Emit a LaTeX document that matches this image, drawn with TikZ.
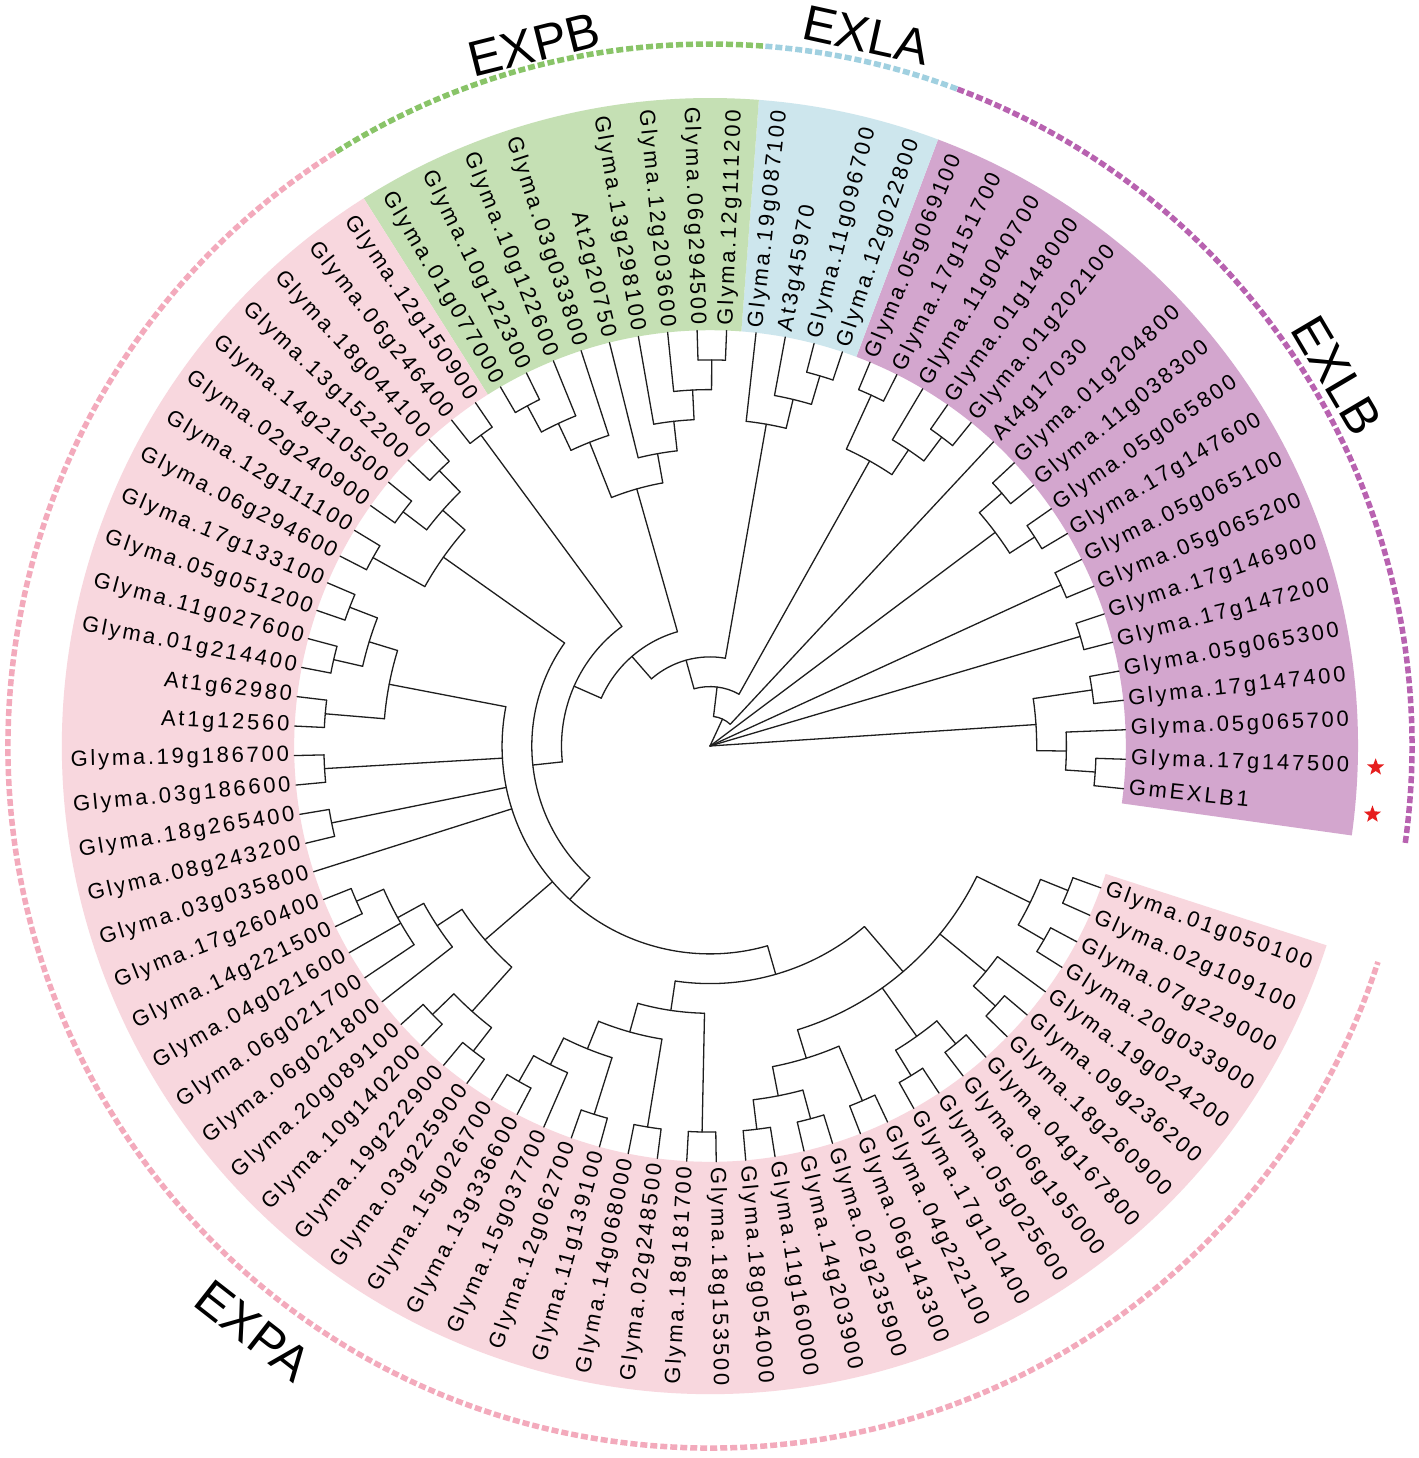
\documentclass[tikz,border=0pt]{standalone}
\usepackage{fontspec}
\setmainfont{Liberation Sans}
\newfontfamily\labfont[LetterSpace=12.5]{Liberation Sans}
\usetikzlibrary{shapes.geometric}
\definecolor{pinkband}{RGB}{248,215,222}
\definecolor{greenband}{RGB}{197,224,180}
\definecolor{blueband}{RGB}{205,230,237}
\definecolor{purpleband}{RGB}{211,166,206}
\definecolor{pinkdash}{RGB}{243,170,188}
\definecolor{greendash}{RGB}{137,196,104}
\definecolor{bluedash}{RGB}{160,208,224}
\definecolor{purpledash}{RGB}{184,98,176}
\definecolor{starred}{RGB}{230,30,30}
\definecolor{branchcol}{RGB}{30,30,30}
\def\aS{-5.9}\def\aD{4.07}\def\hstep{29.7}\def\Rtip{415.8}\def\Rlab{421}
\def\Rin{415.8}\def\Rout{648}\def\Rdash{702}
\tikzset{
  branch/.style={draw=branchcol,line width=1.3pt,line cap=round,line join=round},
  leaflab/.style={font=\labfont\fontsize{22}{22}\selectfont,inner sep=0pt,text height=15.5pt,text depth=4.6pt},
  cladelab/.style={font=\fontsize{50}{50}\selectfont,inner sep=0pt},
  dashring/.style={line width=5.5pt,dash pattern=on 7pt off 3pt},
  starmark/.style={star,star points=5,star point ratio=2.4,fill=starred,inner sep=0pt,minimum size=18pt}
}
\newcommand\mkleaf[2]{%
  \pgfmathsetmacro\la{\aS+(#1-1)*\aD}%
  \expandafter\xdef\csname ang@L#1\endcsname{\la}%
  \coordinate (L#1) at (\la:\Rtip pt);%
  \pgfmathtruncatemacro\lflag{((\la>90)&&(\la<270))?1:0}%
  \ifnum\lflag=1
    \pgfmathsetmacro\lrot{\la-180}%
    \node[leaflab,anchor=east,rotate=\lrot] (T#1) at (\la:\Rlab pt) {#2};%
  \else
    \node[leaflab,anchor=west,rotate=\la] (T#1) at (\la:\Rlab pt) {#2};%
  \fi
}
\newcommand\mknode[4]{%
  \pgfmathsetmacro\nr{(14-#2)*\hstep}%
  \edef\na{\csname ang@#3\endcsname}%
  \edef\nb{\csname ang@#4\endcsname}%
  \pgfmathsetmacro\nm{(\na+\nb)/2}%
  \expandafter\xdef\csname ang@#1\endcsname{\nm}%
  \coordinate (#1) at (\nm:\nr pt);%
  \coordinate (#1a) at (\na:\nr pt);%
  \coordinate (#1b) at (\nb:\nr pt);%
  \draw[branch] (#1a) arc[start angle=\na,end angle=\nb,radius=\nr pt];%
  \draw[branch] (#1a) -- (#3);%
  \draw[branch] (#1b) -- (#4);%
}
\newcommand\mkpoly[5]{%
  \mknode{#1}{#2}{#3}{#4}%
  \foreach \cc in {#5}{%
    \edef\ca{\csname ang@\cc\endcsname}%
    \coordinate (#1-\cc) at (\ca:\nr pt);%
    \draw[branch] (#1-\cc) -- (\cc);%
  }%
}
\newcommand\mkband[3]{%
  \fill[#1] (#2:\Rin pt) arc[start angle=#2,end angle=#3,radius=\Rin pt]
    -- (#3:\Rout pt) arc[start angle=#3,end angle=#2,radius=\Rout pt] -- cycle;}
\newcommand\mkdash[3]{%
  \draw[dashring,#1] (#2:\Rdash pt) arc[start angle=#2,end angle=#3,radius=\Rdash pt];}
\begin{document}
\begin{tikzpicture}[x=1pt,y=1pt]
\useasboundingbox (-710,-712) rectangle (708,746);
\fill[white] (-710,-712) rectangle (708,746);
% colour bands
\mkband{purpleband}{-7.935}{69.395}
\mkband{blueband}{69.395}{85.675}
\mkband{greenband}{85.675}{122.305}
\mkband{pinkband}{122.305}{342.085}
% outer dashed rings
\mkdash{purpledash}{-7.935}{69.395}
\mkdash{bluedash}{69.395}{85.675}
\mkdash{greendash}{85.675}{122.305}
\mkdash{pinkdash}{122.305}{342.085}
% leaves
\mkleaf{1}{GmEXLB1}
\mkleaf{2}{Glyma.17g147500}
\mkleaf{3}{Glyma.05g065700}
\mkleaf{4}{Glyma.17g147400}
\mkleaf{5}{Glyma.05g065300}
\mkleaf{6}{Glyma.17g147200}
\mkleaf{7}{Glyma.17g146900}
\mkleaf{8}{Glyma.05g065200}
\mkleaf{9}{Glyma.05g065100}
\mkleaf{10}{Glyma.17g147600}
\mkleaf{11}{Glyma.05g065800}
\mkleaf{12}{Glyma.11g038300}
\mkleaf{13}{Glyma.01g204800}
\mkleaf{14}{At4g17030}
\mkleaf{15}{Glyma.01g202100}
\mkleaf{16}{Glyma.01g148000}
\mkleaf{17}{Glyma.11g040700}
\mkleaf{18}{Glyma.17g151700}
\mkleaf{19}{Glyma.05g069100}
\mkleaf{20}{Glyma.12g022800}
\mkleaf{21}{Glyma.11g096700}
\mkleaf{22}{At3g45970}
\mkleaf{23}{Glyma.19g087100}
\mkleaf{24}{Glyma.12g111200}
\mkleaf{25}{Glyma.06g294500}
\mkleaf{26}{Glyma.12g203600}
\mkleaf{27}{Glyma.13g298100}
\mkleaf{28}{At2g20750}
\mkleaf{29}{Glyma.03g033800}
\mkleaf{30}{Glyma.10g122600}
\mkleaf{31}{Glyma.10g122300}
\mkleaf{32}{Glyma.01g077000}
\mkleaf{33}{Glyma.12g150900}
\mkleaf{34}{Glyma.06g246400}
\mkleaf{35}{Glyma.18g044100}
\mkleaf{36}{Glyma.13g152200}
\mkleaf{37}{Glyma.14g210500}
\mkleaf{38}{Glyma.02g240900}
\mkleaf{39}{Glyma.12g111100}
\mkleaf{40}{Glyma.06g294600}
\mkleaf{41}{Glyma.17g133100}
\mkleaf{42}{Glyma.05g051200}
\mkleaf{43}{Glyma.11g027600}
\mkleaf{44}{Glyma.01g214400}
\mkleaf{45}{At1g62980}
\mkleaf{46}{At1g12560}
\mkleaf{47}{Glyma.19g186700}
\mkleaf{48}{Glyma.03g186600}
\mkleaf{49}{Glyma.18g265400}
\mkleaf{50}{Glyma.08g243200}
\mkleaf{51}{Glyma.03g035800}
\mkleaf{52}{Glyma.17g260400}
\mkleaf{53}{Glyma.14g221500}
\mkleaf{54}{Glyma.04g021600}
\mkleaf{55}{Glyma.06g021700}
\mkleaf{56}{Glyma.06g021800}
\mkleaf{57}{Glyma.20g089100}
\mkleaf{58}{Glyma.10g140200}
\mkleaf{59}{Glyma.19g222900}
\mkleaf{60}{Glyma.03g225900}
\mkleaf{61}{Glyma.15g026700}
\mkleaf{62}{Glyma.13g336600}
\mkleaf{63}{Glyma.15g037700}
\mkleaf{64}{Glyma.12g062700}
\mkleaf{65}{Glyma.11g139100}
\mkleaf{66}{Glyma.14g068000}
\mkleaf{67}{Glyma.02g248500}
\mkleaf{68}{Glyma.18g181700}
\mkleaf{69}{Glyma.18g153500}
\mkleaf{70}{Glyma.18g054000}
\mkleaf{71}{Glyma.11g160000}
\mkleaf{72}{Glyma.14g203900}
\mkleaf{73}{Glyma.02g235900}
\mkleaf{74}{Glyma.06g143300}
\mkleaf{75}{Glyma.04g222100}
\mkleaf{76}{Glyma.17g101400}
\mkleaf{77}{Glyma.05g025600}
\mkleaf{78}{Glyma.06g195000}
\mkleaf{79}{Glyma.04g167800}
\mkleaf{80}{Glyma.18g260900}
\mkleaf{81}{Glyma.09g236200}
\mkleaf{82}{Glyma.19g024200}
\mkleaf{83}{Glyma.20g033900}
\mkleaf{84}{Glyma.07g229000}
\mkleaf{85}{Glyma.02g109100}
\mkleaf{86}{Glyma.01g050100}
% EXLB
\mknode{b12}{1}{L1}{L2}
\mknode{b123}{2}{b12}{L3}
\mknode{b45}{1}{L4}{L5}
\mknode{bA}{3}{b123}{b45}
\mknode{bB}{1}{L6}{L7}
\mknode{bC}{1}{L8}{L9}
\mknode{bJ}{1}{L10}{L11}
\mknode{bK}{1}{L12}{L13}
\mknode{bD}{2}{bJ}{bK}
\mknode{bF}{1}{L15}{L16}
\mknode{bG}{2}{bF}{L17}
\mknode{bH}{1}{L18}{L19}
\mknode{bE}{3}{bG}{bH}
% EXLA
\mknode{la1}{1}{L20}{L21}
\mknode{la2}{2}{la1}{L22}
\mknode{la3}{3}{la2}{L23}
% EXPB
\mknode{pb1}{1}{L24}{L25}
\mknode{pb2}{2}{pb1}{L26}
\mknode{pb3}{3}{pb2}{L27}
\mknode{pb4}{4}{pb3}{L28}
\mknode{pb5}{1}{L31}{L32}
\mknode{pb6}{2}{L30}{pb5}
\mknode{pb7}{3}{L29}{pb6}
\mknode{pbB}{5}{pb4}{pb7}
% EXPA
\mknode{pa3334}{1}{L33}{L34}
\mknode{pa3536}{1}{L35}{L36}
\mknode{pa3738}{1}{L37}{L38}
\mknode{pa3538}{2}{pa3536}{pa3738}
\mknode{pa3940}{1}{L39}{L40}
\mknode{pa3540}{3}{pa3538}{pa3940}
\mknode{pa4142}{1}{L41}{L42}
\mknode{pa4344}{1}{L43}{L44}
\mknode{pa4144}{2}{pa4142}{pa4344}
\mknode{pa4546}{1}{L45}{L46}
\mknode{pa4146}{3}{pa4144}{pa4546}
\mknode{pa4748}{1}{L47}{L48}
\mknode{pa4950}{1}{L49}{L50}
\mknode{pa5253}{1}{L52}{L53}
\mkpoly{pa5255}{2}{pa5253}{L55}{L54}
\mknode{pa5256}{3}{pa5255}{L56}
\mknode{pa5758}{1}{L57}{L58}
\mknode{pa5960}{1}{L59}{L60}
\mknode{pa5760}{2}{pa5758}{pa5960}
\mknode{pa5260}{4}{pa5256}{pa5760}
\mknode{pa6162}{1}{L61}{L62}
\mknode{pa6163}{2}{pa6162}{L63}
\mknode{pa6465}{1}{L64}{L65}
\mknode{pa6165}{3}{pa6163}{pa6465}
\mknode{pa6667}{1}{L66}{L67}
\mknode{pa6167}{4}{pa6165}{pa6667}
\mknode{pa6869}{1}{L68}{L69}
\mknode{pa6169}{5}{pa6167}{pa6869}
\mknode{pa7071}{1}{L70}{L71}
\mknode{pa7273}{1}{L72}{L73}
\mknode{pa7073}{2}{pa7071}{pa7273}
\mknode{pa7475}{1}{L74}{L75}
\mknode{pa7075}{3}{pa7073}{pa7475}
\mknode{pa7677}{1}{L76}{L77}
\mknode{pa7879}{1}{L78}{L79}
\mknode{pa7679}{2}{pa7677}{pa7879}
\mknode{pa8081}{1}{L80}{L81}
\mknode{pa8082}{2}{pa8081}{L82}
\mknode{pa8384}{1}{L83}{L84}
\mknode{pa8586}{1}{L85}{L86}
\mknode{pa8386}{2}{pa8384}{pa8586}
\mkpoly{pa7086}{4}{pa7075}{pa8386}{pa7679,pa8082}
\mknode{N6}{6}{pa6169}{pa7086}
\mkpoly{N7}{7}{pa4146}{N6}{pa4748,pa4950,L51,pa5260}
\mknode{N8}{8}{pa3540}{N7}
\mknode{N9}{9}{pa3334}{N8}
\mknode{N10}{10}{pbB}{N9}
\mknode{N11}{11}{la3}{N10}
\mknode{N12}{12}{bE}{N11}
\mknode{N13}{13}{L14}{N12}
% root
\coordinate (root) at (0,0);
\foreach \cc in {bA,bB,bC,bD,N13}{\draw[branch] (root) -- (\cc);}
% stars
\node[starmark] (s1) at (-1.83:666pt) {};
\node[starmark] (s2) at (-5.9:666pt) {};
% clade labels
\node[cladelab,rotate=14.1] (cEXPB) at (104.1:723pt) {EXPB};
\node[cladelab,rotate=-12.4] (cEXLA) at (77.6:728pt) {EXLA};
\node[cladelab,rotate=-59.4] (cEXLB) at (30.6:728pt) {EXLB};
\node[cladelab,rotate=-38] (cEXPA) at (232:742pt) {EXPA};
\end{tikzpicture}
\end{document}
